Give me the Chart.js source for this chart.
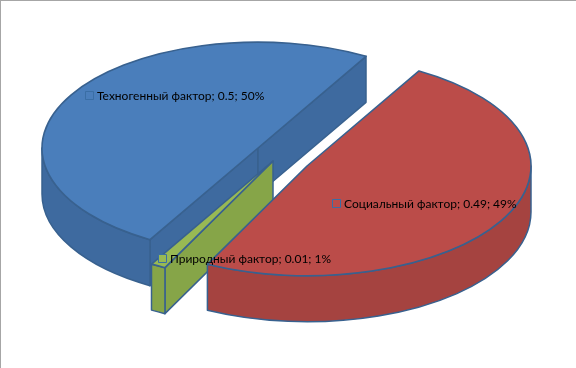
<!DOCTYPE html>
<html>
<head>
<meta charset="utf-8">
<script src="https://cdn.jsdelivr.net/npm/chart.js@4"></script>
<style>
  html, body { margin: 0; padding: 0; background: #fff; }
  #wrap { position: relative; width: 576px; height: 368px; overflow: hidden; }
  #leftLine { position: absolute; left: 0; top: 0; width: 1px; height: 368px; background: #a6a6a6; }
  #topLine { position: absolute; left: 0; top: 0; width: 576px; height: 1px; background: #a6a6a6; }
</style>
</head>
<body>
<div id="wrap">
  <canvas id="chart" width="576" height="368"></canvas>
  <div id="leftLine"></div>
  <div id="topLine"></div>
</div>
<script>
const categories = ['Техногенный фактор', 'Социальный фактор', 'Природный фактор'];
const values = [0.5, 0.49, 0.01];
const percents = [50, 49, 1];

const topColors = ['#4a7ebb', '#bb4c49', '#98b954'];
const wallColors = ['#3e6a9f', '#a54340', '#86a548'];
const outline = '#38618f';
const labelSpots = [[97, 96], [344, 204], [170, 259]];

// how far each slice is pulled out of the pie, and how much it is enlarged
const sliceShift = [[-30, -36], [19, -18], [-15, -23]];
const sliceScale = [1, 1.037, 1.125];

const tiltY = 0.49;
const depth = 46;
const drawOrder = [0, 2, 1];

// pie is flat in chart.js, so squash it and put a wall under every slice
function sliceShape(arc, i) {
  const p = arc.getProps(['x', 'y', 'startAngle', 'endAngle', 'outerRadius'], true);
  return {
    start: p.startAngle,
    end: p.endAngle,
    r: p.outerRadius * sliceScale[i],
    x: p.x + sliceShift[i][0],
    y: p.y + sliceShift[i][1],
  };
}

function drawWalls(ctx, s, fill) {
  const rx = s.r, ry = s.r * tiltY;
  ctx.fillStyle = fill;
  ctx.strokeStyle = outline;
  ctx.lineWidth = 1.5;
  ctx.lineJoin = 'round';

  // flat cut faces, only those turned towards us
  [[s.start, -1], [s.end, 1]].forEach(([a, side]) => {
    if (Math.cos(a) * side <= 0) return;
    const ex = s.x + Math.cos(a) * rx, ey = s.y + Math.sin(a) * ry;
    ctx.beginPath();
    ctx.moveTo(s.x, s.y);
    ctx.lineTo(ex, ey);
    ctx.lineTo(ex, ey + depth);
    ctx.lineTo(s.x, s.y + depth);
    ctx.closePath();
    ctx.fill();
    ctx.stroke();
  });

  // curved outer wall, only the part facing us
  for (let n = -1; n < 3; n++) {
    const a = Math.max(s.start, n * 2 * Math.PI);
    const b = Math.min(s.end, n * 2 * Math.PI + Math.PI);
    if (b <= a) continue;
    ctx.beginPath();
    ctx.ellipse(s.x, s.y, rx, ry, 0, a, b);
    ctx.ellipse(s.x, s.y + depth, rx, ry, 0, b, a, true);
    ctx.closePath();
    ctx.fill();
    ctx.stroke();
  }
}

// stroke after the squash so the line keeps the same width all round
function drawRim(ctx, s) {
  ctx.strokeStyle = outline;
  ctx.lineWidth = 1.6;
  ctx.lineJoin = 'round';
  ctx.beginPath();
  ctx.moveTo(s.x, s.y);
  ctx.ellipse(s.x, s.y, s.r, s.r * tiltY, 0, s.start, s.end);
  ctx.closePath();
  ctx.stroke();
}

const pie3d = {
  id: 'pie3d',
  beforeDatasetsDraw(chart) {
    const ctx = chart.ctx;
    const arcs = chart.getDatasetMeta(0).data;
    drawOrder.forEach(i => {
      const shape = sliceShape(arcs[i], i);
      drawWalls(ctx, shape, wallColors[i]);
      ctx.save();
      ctx.translate(shape.x, shape.y);
      ctx.scale(sliceScale[i], sliceScale[i] * tiltY);
      ctx.translate(-arcs[i].x, -arcs[i].y);
      arcs[i].draw(ctx);
      ctx.restore();
      drawRim(ctx, shape);
    });
    return false;
  },
  afterDraw(chart) {
    const ctx = chart.ctx;
    ctx.save();
    ctx.font = '12px Lato, "Open Sans", sans-serif';
    ctx.textBaseline = 'middle';
    ctx.textAlign = 'left';
    categories.forEach((name, i) => {
      const [x, y] = labelSpots[i];
      ctx.fillStyle = topColors[i];
      ctx.strokeStyle = '#3a6ea5';
      ctx.lineWidth = 1;
      ctx.fillRect(x - 11.5, y - 4.5, 8, 8);
      ctx.strokeRect(x - 11.5, y - 4.5, 8, 8);
      ctx.fillStyle = '#000';
      ctx.fillText(`${name}; ${values[i]}; ${percents[i]}%`, x, y);
    });
    ctx.restore();
  }
};

new Chart(document.getElementById('chart'), {
  type: 'pie',
  data: {
    labels: categories,
    datasets: [{
      data: values,
      backgroundColor: topColors,
      borderWidth: 0,
      clip: false,
    }],
  },
  options: {
    responsive: false,
    animation: false,
    rotation: 210,
    radius: 216,
    plugins: {
      legend: { display: false },
      tooltip: { enabled: false },
    },
  },
  plugins: [pie3d],
});
</script>
</body>
</html>
